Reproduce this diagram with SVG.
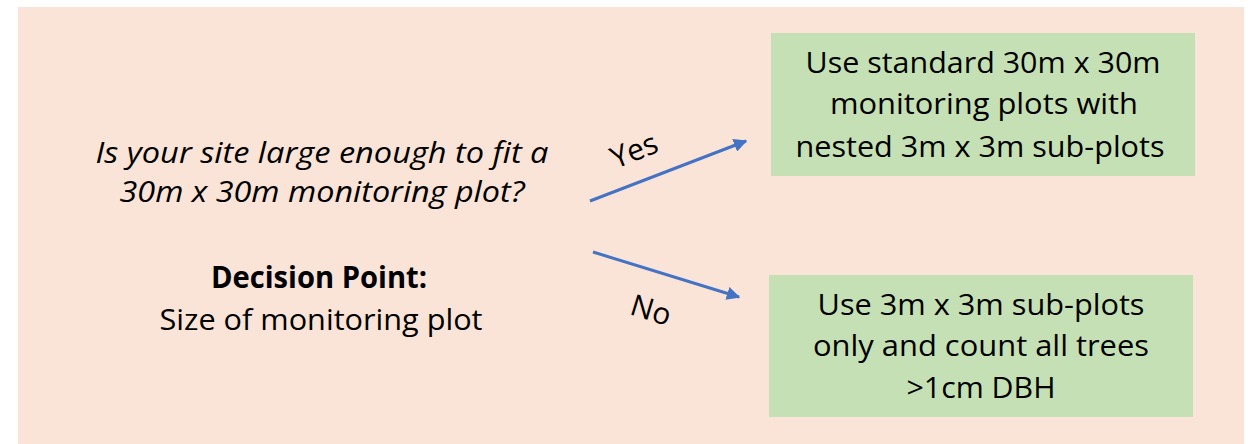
<svg xmlns="http://www.w3.org/2000/svg" width="1251" height="444" viewBox="0 0 1251 444">
<defs>
<style>
.t{font-family:"Open Sans","Liberation Sans",sans-serif;font-size:30px;fill:#000;text-anchor:middle}
.i{font-style:italic}
.b{font-weight:bold}
.box{fill:#C5E0B4}
.conn{stroke:#4472C4;stroke-width:3;fill:none}
</style>
<marker id="ah" viewBox="0 0 10 10" refX="9" refY="5" markerWidth="4.5" markerHeight="4.5" orient="auto" markerUnits="strokeWidth">
<path d="M0,0 L10,5 L0,10 z" fill="#4472C4"/>
</marker>
</defs>
<rect x="0" y="0" width="1251" height="444" fill="#fff"/>
<rect x="18" y="7" width="1226" height="437" fill="#FAE4D7"/>
<g id="question">
<text class="t i" x="322" y="163" textLength="453" lengthAdjust="spacingAndGlyphs">Is your site large enough to fit a</text>
<text class="t i" x="322" y="202" textLength="405" lengthAdjust="spacingAndGlyphs">30m x 30m monitoring plot?</text>
</g>
<g id="decision">
<text class="t b" x="319" y="288" textLength="216" lengthAdjust="spacingAndGlyphs">Decision Point:</text>
<text class="t" x="321" y="330" textLength="323" lengthAdjust="spacingAndGlyphs">Size of monitoring plot</text>
</g>
<g id="yes-box">
<rect class="box" x="771" y="33" width="424" height="143"/>
<text class="t" x="983" y="73" textLength="355" lengthAdjust="spacingAndGlyphs">Use standard 30m x 30m</text>
<text class="t" x="984" y="114" textLength="308" lengthAdjust="spacingAndGlyphs">monitoring plots with</text>
<text class="t" x="980" y="157" textLength="369" lengthAdjust="spacingAndGlyphs">nested 3m x 3m sub-plots</text>
</g>
<g id="no-box">
<rect class="box" x="769" y="275" width="424" height="142"/>
<text class="t" x="981" y="315" textLength="327" lengthAdjust="spacingAndGlyphs">Use 3m x 3m sub-plots</text>
<text class="t" x="981" y="356" textLength="336" lengthAdjust="spacingAndGlyphs">only and count all trees</text>
<text class="t" x="981" y="398" textLength="149" lengthAdjust="spacingAndGlyphs">&gt;1cm DBH</text>
</g>
<g id="connectors">
<line class="conn" x1="590" y1="201" x2="746" y2="141" marker-end="url(#ah)"/>
<line class="conn" x1="593" y1="252" x2="739" y2="297" marker-end="url(#ah)"/>
<text class="t" x="0" y="0" transform="translate(638,160) rotate(-22)">Yes</text>
<text class="t" x="0" y="0" transform="translate(648,320) rotate(17)">No</text>
</g>
</svg>
